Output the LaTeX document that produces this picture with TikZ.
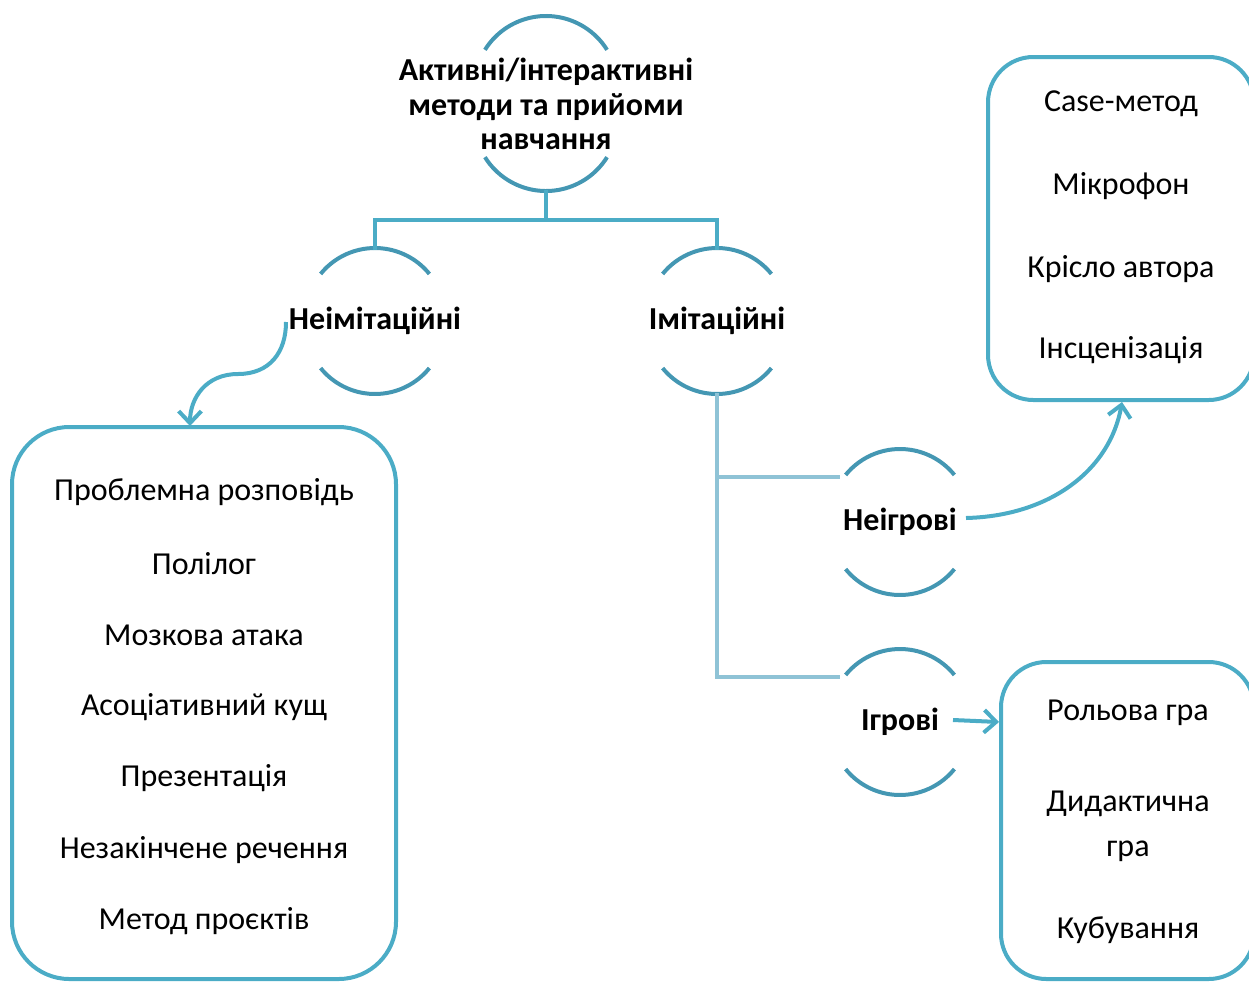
\documentclass[tikz,border=0pt]{standalone}
\usepackage{fontspec}
\setmainfont{Carlito}
\usetikzlibrary{arrows.meta}
\definecolor{arcc}{HTML}{4497B3}
\definecolor{linec}{HTML}{4BACC6}
\definecolor{lightc}{HTML}{8FC3D6}
\tikzset{
  arcline/.style={draw=arcc, line width=3pt},
  conn/.style={draw=linec, line width=3pt},
  lconn/.style={draw=lightc, line width=3pt},
  arr/.style={draw=linec, line width=3pt, -{Straight Barb[length=9pt,width=17pt,line width=3pt]}},
  bigbox/.style={draw=linec, line width=3pt, rounded corners=43pt},
  smallbox/.style={draw=linec, line width=3pt, rounded corners=34pt},
  lbl/.style={font=\fontsize{24}{26}\selectfont\bfseries, align=center, inner sep=0pt},
  item/.style={font=\fontsize{24}{34}\selectfont, align=center, inner sep=0pt},
}
\begin{document}
\begin{tikzpicture}[x=0.75pt,y=-0.75pt]
\useasboundingbox (0,0) rectangle (1249,982);
\clip (0,0) rectangle (1249,982);

% boxes
\draw[bigbox] (12,427) rectangle (396,979);
\draw[smallbox] (988,57) rectangle (1254,400);
\draw[smallbox] (1001,662) rectangle (1254,979);

% circle-like label nodes
\node[lbl] (top) at (546,104) {Активні/інтерактивні\\методи та прийоми\\навчання};
\node[lbl] (neim) at (375,321) {Неімітаційні};
\node[lbl] (im) at (717,321) {Імітаційні};
\node[lbl] (neig) at (900,522) {Неігрові};
\node[lbl] (ig) at (900,722) {Ігрові};

% arcs
\draw[arcline] (top.center) ++(0,-16) ++(212:72) arc[start angle=212, end angle=328, radius=72];
\draw[arcline] (top.center) ++(0,15) ++(32:72) arc[start angle=32, end angle=148, radius=72];
\foreach \n in {neim,im,neig,ig}{
  \draw[arcline] (\n.center) ++(0,-3) ++(219:70) arc[start angle=219, end angle=321, radius=70];
  \draw[arcline] (\n.center) ++(0,3) ++(39:70) arc[start angle=39, end angle=141, radius=70];
}

% tree connectors
\coordinate (tb) at (546,190);
\coordinate (tj) at (546,220);
\coordinate (lj) at (375,220);
\coordinate (rj) at (717,220);
\coordinate (lt) at (375,250);
\coordinate (rt) at (717,250);
\draw[conn] (tb) -- (tj);
\draw[conn] (lt) -- (lj) -- (rj) -- (rt);

\coordinate (ib) at (717,393);
\coordinate (ia) at (717,477);
\coordinate (ic) at (717,677);
\coordinate (na) at (840,477);
\coordinate (ga) at (840,677);
\draw[lconn] (ib) -- (ic) -- (ga);
\draw[lconn] (ia) -- (na);

% left list
\node[item] (l1) at (204,492) {Проблемна розповідь};
\node[item] (l2) at (204,564) {Полілог};
\node[item] (l3) at (204,635) {Мозкова атака};
\node[item] (l4) at (204,707) {Асоціативний кущ};
\node[item] (l5) at (204,778) {Презентація};
\node[item] (l6) at (204,850) {Незакінчене речення};
\node[item] (l7) at (204,921) {Метод проєктів};

% top right list
\node[item] (r1) at (1121,104) {Case-метод};
\node[item] (r2) at (1121,186) {Мікрофон};
\node[item] (r3) at (1121,269) {Крісло автора};
\node[item] (r4) at (1121,350) {Інсценізація};
\coordinate (rbot) at (1122,402);

% bottom right list
\node[item] (g1) at (1128,713) {Рольова гра};
\node[item] (g2) at (1128,826) {Дидактична\\гра};
\node[item] (g3) at (1128,930) {Кубування};
\coordinate (gleft) at (999,722);

% arrows
\coordinate (ls) at (286,322);
\coordinate (lend) at (190,426);
\draw[arr] (ls) .. controls (286,352) and (270,374) .. (238,374)
                .. controls (206,374) and (190,398) .. (lend);
\coordinate (ns) at (966,518);
\draw[arr] (ns) .. controls (1050,516) and (1110,470) .. (rbot);
\coordinate (gs) at (953,720);
\draw[arr] (gs) -- (gleft);
\end{tikzpicture}
\end{document}
